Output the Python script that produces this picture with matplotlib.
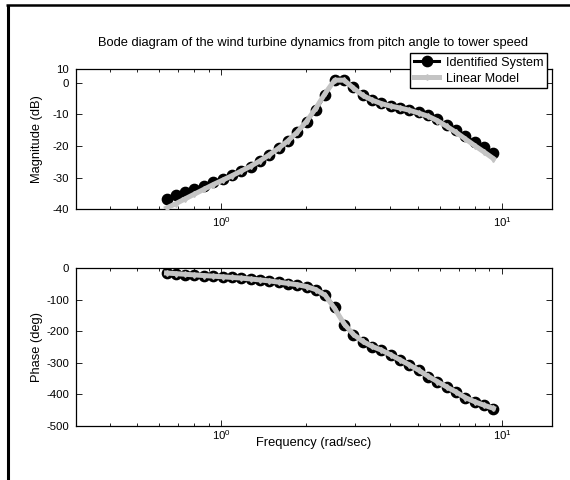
import matplotlib
matplotlib.use('Agg')
import matplotlib.pyplot as plt
from matplotlib.lines import Line2D

plt.rcParams['font.family'] = ['Liberation Sans', 'DejaVu Sans']
plt.rcParams['axes.unicode_minus'] = False

# frequency points (rad/sec)
freq = [0.637, 0.688, 0.742, 0.801, 0.865, 0.934, 1.009, 1.089, 1.176, 1.270,
        1.371, 1.480, 1.598, 1.725, 1.863, 2.011, 2.172, 2.345, 2.532, 2.734,
        2.951, 3.187, 3.441, 3.715, 4.011, 4.331, 4.676, 5.049, 5.451, 5.886,
        6.353, 6.860, 7.406, 7.997, 8.634, 9.322]

# magnitude (dB)
mag_ident = [-36.7, -35.6, -34.6, -33.6, -32.5, -31.4, -30.3, -29.2, -27.8, -26.5,
             -24.6, -22.7, -20.7, -18.4, -15.6, -12.3, -8.5, -3.8, 1.0, 1.0,
             -1.5, -3.9, -5.4, -6.5, -7.3, -7.9, -8.6, -9.4, -10.3, -11.6,
             -13.3, -14.9, -16.9, -18.8, -20.4, -22.2]
mag_model = [-39.6, -38.2, -36.7, -35.2, -33.7, -32.2, -30.8, -29.4, -27.9, -26.4,
             -24.7, -22.8, -20.7, -18.4, -15.6, -12.2, -8.0, -3.3, 0.8, 0.8,
             -1.7, -4.0, -5.5, -6.6, -7.4, -8.0, -8.7, -9.6, -10.6, -12.0,
             -13.8, -15.7, -17.8, -19.9, -21.9, -24.0]

# phase (deg)
ph_ident = [-16, -18, -20, -21, -23, -25, -27, -29, -31, -35,
            -38, -41, -45, -49, -53, -58, -69, -85, -122, -180,
            -212, -233, -249, -259, -275, -291, -307, -323, -344, -360,
            -376, -392, -413, -425, -435, -446]
ph_model = [-15, -17, -19, -21, -23, -25, -27, -29, -31, -34,
            -37, -40, -44, -48, -52, -58, -68, -86, -128, -176,
            -210, -232, -248, -260, -275, -291, -307, -324, -343, -360,
            -377, -393, -411, -424, -435, -445]

mag_ticks = [-40, -30, -20, -10, 0]
ph_ticks = [-500, -400, -300, -200, -100, 0]

W, H = 570, 480
fig = plt.figure(figsize=(W / 100, H / 100), dpi=100)


def box(l, t, r, b):
    return [l / W, 1 - b / H, (r - l) / W, (b - t) / H]


ax1 = fig.add_axes(box(76, 69, 552, 209.3))
ax2 = fig.add_axes(box(76, 268.3, 552, 425.7))

for ax in (ax1, ax2):
    ax.set_xscale('log')
    ax.set_xlim(0.303, 15.07)
    ax.tick_params(which='both', direction='in', top=True, right=True,
                   labelsize=8.2, width=0.6)
    ax.tick_params(which='major', length=4)
    ax.tick_params(which='minor', length=2.2)
    ax.tick_params(axis='y', pad=5)
    for s in ax.spines.values():
        s.set_linewidth(0.9)
ax1.tick_params(axis='x', pad=4.5)
ax2.tick_params(axis='x', pad=1.5)

# magnitude
ax1.plot(freq, mag_ident, color='black', lw=2.2, marker='o', ms=7.4,
         mfc='black', mec='black', label='Identified System', zorder=2)
ax1.plot(freq, mag_model, color='#c4c4c4', lw=3.6, marker='d', ms=3,
         mfc='#c4c4c4', mec='#c4c4c4', label='Linear Model', zorder=3)
ax1.set_ylim(-40, 4.33)
ax1.set_yticks(mag_ticks + [4.33])
ax1.set_yticklabels([str(t) for t in mag_ticks] + ['10'])
ax1.set_ylabel('Magnitude (dB)', fontsize=9.3)
ax1.yaxis.set_label_coords(-0.069, 0.5)

leg = ax1.legend(loc='upper right', bbox_to_anchor=(547 / W, 1 - 53 / H),
                 bbox_transform=fig.transFigure, fontsize=9.1, handlelength=2.0,
                 handletextpad=0.5, borderpad=0.3, labelspacing=0.3,
                 fancybox=False, framealpha=1, borderaxespad=0)
leg.get_frame().set_edgecolor('black')
leg.get_frame().set_linewidth(1.0)

# phase
ax2.plot(freq, ph_ident, color='black', lw=2.2, marker='o', ms=7.4,
         mfc='black', mec='black', zorder=2)
ax2.plot(freq, ph_model, color='#c4c4c4', lw=3.6, marker='d', ms=3,
         mfc='#c4c4c4', mec='#c4c4c4', zorder=3)
ax2.set_ylim(-500, 0)
ax2.set_yticks(ph_ticks)
ax2.set_ylabel('Phase (deg)', fontsize=9.3)
ax2.yaxis.set_label_coords(-0.069, 0.5)
ax2.set_xlabel('Frequency (rad/sec)', fontsize=9.3)
ax2.xaxis.set_label_coords(0.5, -0.072)

fig.text(313 / W, 1 - 43 / H,
         'Bode diagram of the wind turbine dynamics from pitch angle to tower speed',
         ha='center', va='center', fontsize=9.3)

# page frame (left and top edges)
fig.add_artist(Line2D([7.5 / W, 7.5 / W], [0, 1 - 5 / H], color='black', lw=2.2,
                      transform=fig.transFigure, solid_capstyle='butt'))
fig.add_artist(Line2D([6 / W, 1], [1 - 5 / H, 1 - 5 / H], color='black', lw=1.8,
                      transform=fig.transFigure, solid_capstyle='butt'))

fig.savefig('out.png', dpi=100)
